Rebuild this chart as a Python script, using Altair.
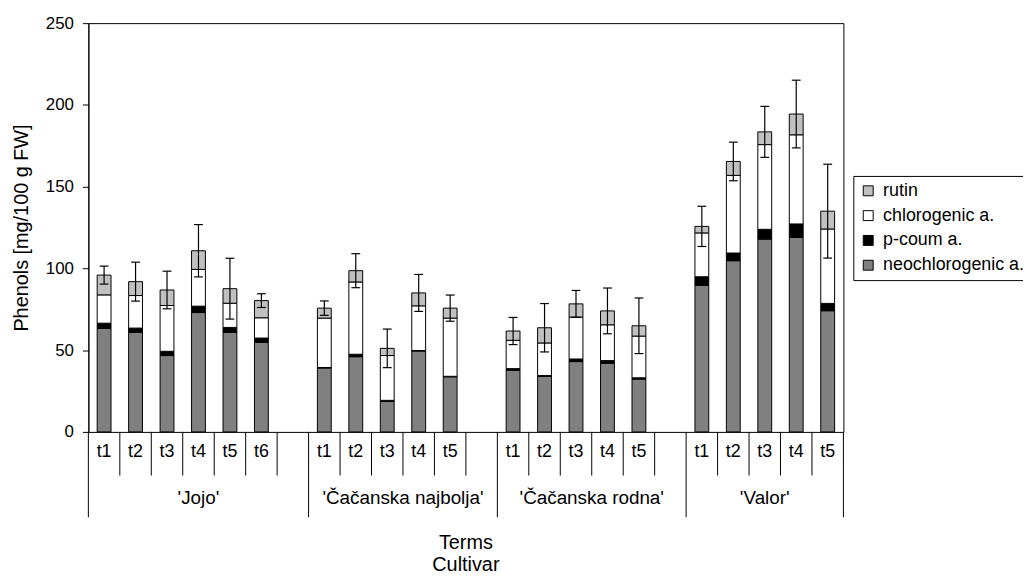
import altair as alt
import pandas as pd

cultivars = ["'Jojo'", "'Čačanska najbolja'", "'Čačanska rodna'", "'Valor'"]
terms = [
    ["t1", "t2", "t3", "t4", "t5", "t6"],
    ["t1", "t2", "t3", "t4", "t5"],
    ["t1", "t2", "t3", "t4", "t5"],
    ["t1", "t2", "t3", "t4", "t5"],
]
components = ["neochlorogenic a.", "p-coum a.", "chlorogenic a.", "rutin"]  # bottom -> top
legend_order = ["rutin", "chlorogenic a.", "p-coum a.", "neochlorogenic a."]
colors = ["#c0c0c0", "#ffffff", "#000000", "#808080"]

neo = [63.3, 60.9, 46.7, 73.0, 60.9, 54.8,
       39.1, 46.0, 18.7, 49.5, 33.7,
       37.7, 33.9, 43.0, 42.0, 32.3,
       89.7, 104.7, 117.9, 119.0, 74.1]
pcoum = [3.2, 2.6, 2.6, 3.9, 3.0, 2.6,
         0.3, 1.5, 0.6, 0.3, 0.3,
         1.0, 0.6, 1.6, 1.6, 0.8,
         5.2, 4.7, 6.0, 8.2, 4.5]
chloro = [17.3, 19.9, 28.0, 22.5, 14.8, 12.4,
          30.2, 44.2, 27.4, 27.3, 35.6,
          17.3, 19.9, 25.6, 21.9, 25.5,
          26.8, 47.5, 51.8, 54.5, 45.5]
rutin = [12.1, 8.5, 9.5, 11.4, 8.9, 10.5,
         6.1, 6.9, 4.4, 7.9, 6.1,
         5.7, 9.3, 8.1, 8.5, 6.3,
         4.0, 8.5, 7.8, 12.7, 10.9]
err = [5.5, 11.9, 11.5, 16.0, 18.6, 4.2,
       4.4, 10.4, 11.8, 11.3, 8.0,
       8.3, 14.8, 8.2, 14.0, 17.0,
       12.3, 11.8, 15.6, 20.7, 28.7]

FONT = "Liberation Sans"
W, H = 761, 412

# ---- build tables ----
series = [neo, pcoum, chloro, rutin]
bar_rows, err_rows, term_rows, group_rows, sep_rows = [], [], [], [], []
slot, i = 0, 0
sep_rows.append({"xb": 0, "long": True})
for g, (cv, tl) in enumerate(zip(cultivars, terms)):
    start = slot
    for t in tl:
        base = 0.0
        for comp, vals in zip(components, series):
            v = vals[i]
            bar_rows.append({"x0": slot + 0.28, "x1": slot + 0.72, "y0": base,
                             "y1": base + v, "comp": comp})
            base += v
        c = slot + 0.5
        err_rows.append({"xc": c, "xl": c - 0.14, "xr": c + 0.14,
                         "lo": base - err[i], "hi": base + err[i]})
        term_rows.append({"xc": c, "label": t})
        slot += 1
        i += 1
        sep_rows.append({"xb": slot, "long": False})
    if g < len(cultivars) - 1:
        slot += 1  # empty slot between cultivars
        sep_rows.append({"xb": slot, "long": True})
    else:
        sep_rows[-1]["long"] = True
    group_rows.append({"xc": (start + slot) / 2, "label": cv})

bars_df = pd.DataFrame(bar_rows)
err_df = pd.DataFrame(err_rows)
term_df = pd.DataFrame(term_rows)
group_df = pd.DataFrame(group_rows)
sep_df = pd.DataFrame(sep_rows)
short_df = sep_df[~sep_df["long"]]
long_df = sep_df[sep_df["long"]]

xscale = alt.Scale(domain=[0, slot], nice=False, zero=False)
yscale = alt.Scale(domain=[0, 250], nice=False)
yaxis = alt.Axis(values=[0, 50, 100, 150, 200, 250], grid=False,
                 tickSize=6, tickColor="black", domainColor="black",
                 labelFontSize=17, labelPadding=9, labelColor="black", labelFont=FONT,
                 titleFontSize=20, titleFont=FONT, titleFontWeight="normal",
                 titleColor="black", titleAngle=270, titleX=-67, titleY=H / 2,
                 titleAlign="center", titleBaseline="middle")
YT = "Phenols [mg/100 g FW]"

bars = alt.Chart(bars_df).mark_bar(stroke="black", strokeWidth=1).encode(
    x=alt.X("x0:Q", scale=xscale, axis=None),
    x2="x1:Q",
    y=alt.Y("y0:Q", scale=yscale, axis=yaxis, title=YT),
    y2="y1:Q",
    color=alt.Color("comp:N", scale=alt.Scale(domain=legend_order, range=colors),
                    legend=alt.Legend(title=None, orient="none", legendX=771, legendY=154,
                                      symbolType="square", symbolSize=100,
                                      symbolStrokeColor="black", symbolStrokeWidth=1,
                                      labelFontSize=18, labelFont=FONT, labelColor="black",
                                      labelOffset=6, rowPadding=7, padding=6,
                                      strokeColor="black", fillColor="white")),
)

err_v = alt.Chart(err_df).mark_rule(color="black", strokeWidth=1.2).encode(
    x=alt.X("xc:Q", scale=xscale, axis=None),
    y=alt.Y("lo:Q", scale=yscale, axis=yaxis, title=YT),
    y2="hi:Q",
)
cap_lo = alt.Chart(err_df).mark_rule(color="black", strokeWidth=1.2).encode(
    x=alt.X("xl:Q", scale=xscale, axis=None), x2="xr:Q",
    y=alt.Y("lo:Q", scale=yscale, axis=yaxis, title=YT),
)
cap_hi = alt.Chart(err_df).mark_rule(color="black", strokeWidth=1.2).encode(
    x=alt.X("xl:Q", scale=xscale, axis=None), x2="xr:Q",
    y=alt.Y("hi:Q", scale=yscale, axis=yaxis, title=YT),
)

short_sep = alt.Chart(short_df).mark_rule(color="black", strokeWidth=1).encode(
    x=alt.X("xb:Q", scale=xscale, axis=None),
    y=alt.value(H), y2=alt.value(H + 44),
)
long_sep = alt.Chart(long_df).mark_rule(color="black", strokeWidth=1).encode(
    x=alt.X("xb:Q", scale=xscale, axis=None),
    y=alt.value(H), y2=alt.value(H + 86),
)
term_text = alt.Chart(term_df).mark_text(fontSize=18, font=FONT, color="black",
                                         baseline="middle", align="center").encode(
    x=alt.X("xc:Q", scale=xscale, axis=None), y=alt.value(H + 20), text="label:N",
)
group_text = alt.Chart(group_df).mark_text(fontSize=19, font=FONT, color="black",
                                           baseline="middle", align="center").encode(
    x=alt.X("xc:Q", scale=xscale, axis=None), y=alt.value(H + 67), text="label:N",
)
titles_df = pd.DataFrame({"label": ["Terms", "Cultivar"], "dy": [H + 112, H + 134]})
x_titles = alt.Chart(titles_df).mark_text(fontSize=20, font=FONT, color="black",
                                          baseline="middle", align="center").encode(
    x=alt.value(W / 2), y=alt.Y("dy:Q", scale=None), text="label:N",
)

chart = alt.layer(bars, err_v, cap_lo, cap_hi, short_sep, long_sep,
                  term_text, group_text, x_titles).properties(
    width=W, height=H,
    autosize=alt.AutoSizeParams(type="none"),
    padding={"left": 81, "top": 13, "right": 181, "bottom": 146},
    background="white",
).configure_view(stroke="black", strokeWidth=1)

chart.save("out.html", embed_options={"renderer": "svg", "actions": False})
